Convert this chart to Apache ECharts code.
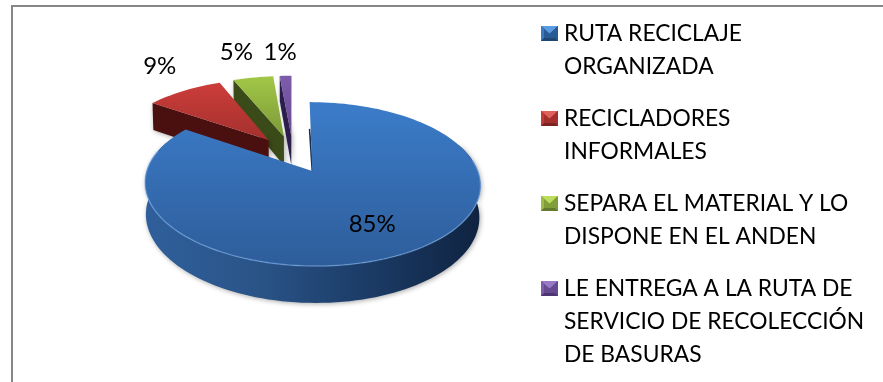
<!DOCTYPE html>
<html><head><meta charset="utf-8">
<style>html,body{margin:0;padding:0;background:#fff}#c{width:883px;height:382px}</style>
<script src="https://cdn.jsdelivr.net/npm/echarts@6/dist/echarts.min.js"></script>
</head><body><div id="c"></div>
<script>
const categories = [
  'RUTA RECICLAJE\nORGANIZADA',
  'RECICLADORES\nINFORMALES',
  'SEPARA EL MATERIAL Y LO\nDISPONE EN EL ANDEN',
  'LE ENTREGA A LA RUTA DE\nSERVICIO DE RECOLECCIÓN\nDE BASURAS'
];
const values = [84.6, 9.2, 4.8, 1.4];

const topColors  = [['#3b7cc9','#2e5d9a'],['#cc3d3a','#a4302e'],['#a2c747','#7c9a38'],['#7d5cab','#67498f']];
const wallColors = ['#1a3a63','#4a100f','#3a4a18','#2c1e4c'];
const iconColors = [['#5b9be0','#2a5a96','#1f4673','#3b78c0'],['#e0605c','#a52f2c','#7c2220','#c23c38'],['#bcdc5e','#7f9e3a','#617a2b','#9abb44'],['#9a78c8','#67498f','#4c3570','#7d5cab']];
const labelRadius = [0.68, 1.5, 1.53, 1.48];
const labelTurn   = [0, 4, -1, -1];
const legendTops  = [17, 102, 187, 272];
const legendLines = [2, 2, 2, 3];

// projection of the pie's plane onto the picture
const cx = 293, cy = 154, rx = 160, ry = 74.6, persp = 0.153, depth = 30, explode = 0.25;
const rad = d => d * Math.PI / 180;
const total = values.reduce((a, b) => a + b, 0);
const spans = [];
values.reduce((acc, v) => { const e = acc + v / total * 360; spans.push([acc, e]); return e; }, 0);

function project(u, v, down) {
  const w = 1 - persp * v;
  const s = down ? 0.994 : 1;
  return [cx + rx * u / w * s, cy + (ry * v + (down ? depth : 0)) / w];
}
function rimPoint(i, a, r, down) {
  const m = rad((spans[i][0] + spans[i][1]) / 2);
  const u = explode * Math.sin(m) + r * Math.sin(rad(a));
  const v = -explode * Math.cos(m) - r * Math.cos(rad(a));
  return project(u, v, down);
}
function arc(i, a0, a1, down) {
  const pts = [];
  const n = Math.max(2, Math.ceil(Math.abs(a1 - a0) / 2));
  for (let k = 0; k <= n; k++) pts.push(rimPoint(i, a0 + (a1 - a0) * k / n, 1, down));
  return pts;
}
const lg = (x2, y2, stops) => new echarts.graphic.LinearGradient(0, 0, x2, y2, stops.map((c, i) => ({offset: i / (stops.length - 1), color: c})));

function renderSlice(i) {
  return function () {
    const [a0, a1] = spans[i];
    const children = [];
    const apexT = rimPoint(i, a0, 0, false), apexB = rimPoint(i, a0, 0, true);
    const o0T = rimPoint(i, a0, 1, false), o0B = rimPoint(i, a0, 1, true);
    const shadow = {shadowBlur: 5, shadowColor: 'rgba(0,0,0,0.35)', shadowOffsetX: 1, shadowOffsetY: 1};
    if (i === 0) {
      const f = arc(i, 70, 292, false), b = arc(i, 70, 292, true).reverse();
      children.push({type: 'polygon', shape: {points: f.concat(b)},
        style: Object.assign({fill: lg(1, 0, ['#2f5f9b', '#2a5488', '#1b3b66', '#0f2340'])}, shadow)});
      children.push({type: 'polyline', shape: {points: [o0B, apexT]},
        style: {stroke: '#16304f', lineWidth: 1.6, fill: null}});
    } else {
      children.push({type: 'polygon', shape: {points: [o0T, apexT, apexB, o0B]},
        style: Object.assign({fill: wallColors[i]}, shadow)});
    }
    const top = arc(i, a0, a1, false);
    children.push({type: 'polygon', shape: {points: [apexT].concat(top)},
      style: {fill: lg(0, 1, topColors[i])}});
    if (i === 0) {
      children.push({type: 'polyline', shape: {points: arc(i, 82, 285, false)},
        style: {stroke: 'rgba(125,175,235,0.55)', lineWidth: 1.4, fill: null}});
    }
    const lp = rimPoint(i, (a0 + a1) / 2 + labelTurn[i], labelRadius[i], false);
    children.push({type: 'text', x: lp[0], y: lp[1], z2: 50,
      style: {text: Math.round(values[i] / total * 100) + '%', font: '24px Lato', fill: '#000', align: 'center', verticalAlign: 'middle'}});
    return {type: 'group', children};
  };
}

function iconFor(i, lines) {
  const [t, l, b, r] = iconColors[i];
  const h = lines * 33;
  const svg = `<svg xmlns="http://www.w3.org/2000/svg" width="17" height="${h}" viewBox="0 0 17 ${h}">` +
    `<g transform="translate(0 ${(33 - 15) / 2})"><rect width="17" height="15" fill="${l}"/>` +
    `<polygon points="0,0 17,0 8.5,7.5" fill="${t}"/><polygon points="0,0 3,2.6 3,12.4 0,15" fill="${r}"/>` +
    `<polygon points="17,0 14,2.6 14,12.4 17,15" fill="${l}"/><polygon points="0,15 17,15 14,12 3,12" fill="${b}"/></g></svg>`;
  return 'image://data:image/svg+xml;charset=utf-8,' + encodeURIComponent(svg);
}

const chart = echarts.init(document.getElementById('c'), null, {renderer: 'canvas'});
chart.setOption({
  animation: false,
  backgroundColor: '#fff',
  graphic: [{type: 'rect', shape: {x: 12, y: 6, width: 1000, height: 1000}, style: {fill: 'transparent', stroke: '#868686', lineWidth: 2}, silent: true}],
  legend: categories.map((name, i) => ({
    data: [name], left: 541, top: legendTops[i], padding: 0, orient: 'vertical',
    itemWidth: 17, itemHeight: legendLines[i] * 33, itemGap: 0, icon: iconFor(i, legendLines[i]), selectedMode: false,
    textStyle: {fontFamily: 'Lato', fontSize: 22.8, lineHeight: 33, color: '#000', padding: [0, 0, 0, 1]}
  })),
  series: categories.map((name, i) => ({
    type: 'custom', name, coordinateSystem: 'none', silent: true,
    z: 10 - i, itemStyle: {color: topColors[i][0]},
    data: [values[i]], renderItem: renderSlice(i)
  })).reverse()
});
</script></body></html>
